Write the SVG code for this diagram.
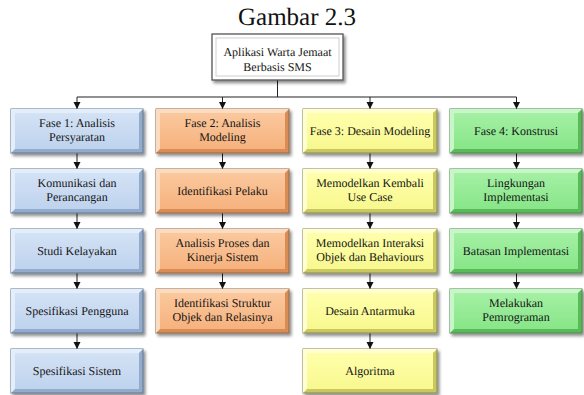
<svg xmlns="http://www.w3.org/2000/svg" width="584" height="395" viewBox="0 0 584 395">
  <style>
    text { font-size: 12px; fill: #151515; text-anchor: middle; }
    .title { font-size: 25px; fill: #111; }
    .wire { fill: none; stroke: #222; stroke-width: 1; }
    .blue .base { fill: #93abcc; stroke: #61768f; }
    .blue .lite { fill: #e4eefa; }
    .blue .face { fill: url(#gBlue); }
    .orange .base { fill: #d98c52; stroke: #92694a; }
    .orange .lite { fill: #fcdcc0; }
    .orange .face { fill: url(#gOrange); }
    .yellow .base { fill: #c8c85e; stroke: #87875a; }
    .yellow .lite { fill: #ffffd2; }
    .yellow .face { fill: url(#gYellow); }
    .green .base { fill: #58bb58; stroke: #4d874d; }
    .green .lite { fill: #c8f6c8; }
    .green .face { fill: url(#gGreen); }
    .base { stroke-width: 1; }
  </style>
  <defs>
    <linearGradient id="gBlue" x1="0" y1="0" x2="0" y2="1">
      <stop offset="0" stop-color="#d3e2f5"/><stop offset="1" stop-color="#bfd3ee"/>
    </linearGradient>
    <linearGradient id="gOrange" x1="0" y1="0" x2="0" y2="1">
      <stop offset="0" stop-color="#fbc89d"/><stop offset="1" stop-color="#f6b27e"/>
    </linearGradient>
    <linearGradient id="gYellow" x1="0" y1="0" x2="0" y2="1">
      <stop offset="0" stop-color="#ffffab"/><stop offset="1" stop-color="#f8f890"/>
    </linearGradient>
    <linearGradient id="gGreen" x1="0" y1="0" x2="0" y2="1">
      <stop offset="0" stop-color="#a4f0a4"/><stop offset="1" stop-color="#88e688"/>
    </linearGradient>
    <filter id="shadow" x="-10%" y="-10%" width="125%" height="135%">
      <feDropShadow dx="2" dy="2.5" stdDeviation="1.6" flood-color="#000" flood-opacity="0.45"/>
    </filter>
    <marker id="arrow" markerUnits="userSpaceOnUse" markerWidth="8" markerHeight="8" refX="7" refY="3.5" orient="auto">
      <path d="M0,0 L7,3.5 L0,7 z" fill="#111"/>
    </marker>
  </defs>

  <rect width="584" height="395" fill="#ffffff"/>

  <g font-family="Tinos, serif" text-rendering="geometricPrecision">
  <text class="title" x="297" y="25">Gambar 2.3</text>

  <!-- connectors -->
  <g id="connectors" class="wire">
    <path d="M277.5,80 V97 M77,97 H516.5"/>
    <path d="M77,97 V109" marker-end="url(#arrow)"/>
    <path d="M222.5,97 V109" marker-end="url(#arrow)"/>
    <path d="M370,97 V109" marker-end="url(#arrow)"/>
    <path d="M516.5,97 V109" marker-end="url(#arrow)"/>
    <!-- column 1 -->
    <path d="M77,153 V169" marker-end="url(#arrow)"/>
    <path d="M77,213 V229" marker-end="url(#arrow)"/>
    <path d="M77,273 V289" marker-end="url(#arrow)"/>
    <path d="M77,333 V349" marker-end="url(#arrow)"/>
    <!-- column 2 -->
    <path d="M222.5,153 V169" marker-end="url(#arrow)"/>
    <path d="M222.5,213 V229" marker-end="url(#arrow)"/>
    <path d="M222.5,273 V289" marker-end="url(#arrow)"/>
    <!-- column 3 -->
    <path d="M370,153 V169" marker-end="url(#arrow)"/>
    <path d="M370,213 V229" marker-end="url(#arrow)"/>
    <path d="M370,273 V289" marker-end="url(#arrow)"/>
    <path d="M370,333 V349" marker-end="url(#arrow)"/>
    <!-- column 4 -->
    <path d="M516.5,153 V169" marker-end="url(#arrow)"/>
    <path d="M516.5,213 V229" marker-end="url(#arrow)"/>
    <path d="M516.5,273 V289" marker-end="url(#arrow)"/>
  </g>

  <!-- root -->
  <g id="root">
    <rect x="212" y="34" width="131" height="46" fill="#fff" stroke="#555" stroke-width="1.3" filter="url(#shadow)"/>
    <rect x="216" y="38" width="123" height="38" fill="none" stroke="#cfcfcf" stroke-width="1"/>
    <text x="277.5" y="56">Aplikasi Warta Jemaat</text>
    <text x="277.5" y="71">Berbasis SMS</text>
  </g>

  <!-- column 1: x=11 w=132 -->
  <g id="fase1" class="blue">
    <g filter="url(#shadow)"><rect class="base" x="11" y="109" width="132" height="44"/></g>
    <polygon class="lite" points="11,109 143,109 139,113 15,113 15,149 11,153"/>
    <rect class="face" x="15" y="113" width="124" height="36"/>
    <text x="77" y="127">Fase 1: Analisis</text>
    <text x="77" y="141">Persyaratan</text>
  </g>
  <g id="komunikasi" class="blue">
    <g filter="url(#shadow)"><rect class="base" x="11" y="169" width="132" height="44"/></g>
    <polygon class="lite" points="11,169 143,169 139,173 15,173 15,209 11,213"/>
    <rect class="face" x="15" y="173" width="124" height="36"/>
    <text x="77" y="187">Komunikasi dan</text>
    <text x="77" y="201">Perancangan</text>
  </g>
  <g id="studi" class="blue">
    <g filter="url(#shadow)"><rect class="base" x="11" y="229" width="132" height="44"/></g>
    <polygon class="lite" points="11,229 143,229 139,233 15,233 15,269 11,273"/>
    <rect class="face" x="15" y="233" width="124" height="36"/>
    <text x="77" y="255">Studi Kelayakan</text>
  </g>
  <g id="pengguna" class="blue">
    <g filter="url(#shadow)"><rect class="base" x="11" y="289" width="132" height="44"/></g>
    <polygon class="lite" points="11,289 143,289 139,293 15,293 15,329 11,333"/>
    <rect class="face" x="15" y="293" width="124" height="36"/>
    <text x="77" y="315">Spesifikasi Pengguna</text>
  </g>
  <g id="sistem" class="blue">
    <g filter="url(#shadow)"><rect class="base" x="11" y="349" width="132" height="44"/></g>
    <polygon class="lite" points="11,349 143,349 139,353 15,353 15,389 11,393"/>
    <rect class="face" x="15" y="353" width="124" height="36"/>
    <text x="77" y="375">Spesifikasi Sistem</text>
  </g>

  <!-- column 2: x=156 w=133 -->
  <g id="fase2" class="orange">
    <g filter="url(#shadow)"><rect class="base" x="156" y="109" width="133" height="44"/></g>
    <polygon class="lite" points="156,109 289,109 285,113 160,113 160,149 156,153"/>
    <rect class="face" x="160" y="113" width="125" height="36"/>
    <text x="222.5" y="127">Fase 2: Analisis</text>
    <text x="222.5" y="141">Modeling</text>
  </g>
  <g id="pelaku" class="orange">
    <g filter="url(#shadow)"><rect class="base" x="156" y="169" width="133" height="44"/></g>
    <polygon class="lite" points="156,169 289,169 285,173 160,173 160,209 156,213"/>
    <rect class="face" x="160" y="173" width="125" height="36"/>
    <text x="222.5" y="195">Identifikasi Pelaku</text>
  </g>
  <g id="proses" class="orange">
    <g filter="url(#shadow)"><rect class="base" x="156" y="229" width="133" height="44"/></g>
    <polygon class="lite" points="156,229 289,229 285,233 160,233 160,269 156,273"/>
    <rect class="face" x="160" y="233" width="125" height="36"/>
    <text x="222.5" y="247">Analisis Proses dan</text>
    <text x="222.5" y="261">Kinerja Sistem</text>
  </g>
  <g id="struktur" class="orange">
    <g filter="url(#shadow)"><rect class="base" x="156" y="289" width="133" height="44"/></g>
    <polygon class="lite" points="156,289 289,289 285,293 160,293 160,329 156,333"/>
    <rect class="face" x="160" y="293" width="125" height="36"/>
    <text x="222.5" y="307">Identifikasi Struktur</text>
    <text x="222.5" y="321">Objek dan Relasinya</text>
  </g>

  <!-- column 3: x=303 w=134 -->
  <g id="fase3" class="yellow">
    <g filter="url(#shadow)"><rect class="base" x="303" y="109" width="134" height="44"/></g>
    <polygon class="lite" points="303,109 437,109 433,113 307,113 307,149 303,153"/>
    <rect class="face" x="307" y="113" width="126" height="36"/>
    <text x="370" y="135">Fase 3: Desain Modeling</text>
  </g>
  <g id="usecase" class="yellow">
    <g filter="url(#shadow)"><rect class="base" x="303" y="169" width="134" height="44"/></g>
    <polygon class="lite" points="303,169 437,169 433,173 307,173 307,209 303,213"/>
    <rect class="face" x="307" y="173" width="126" height="36"/>
    <text x="370" y="187">Memodelkan Kembali</text>
    <text x="370" y="201">Use Case</text>
  </g>
  <g id="interaksi" class="yellow">
    <g filter="url(#shadow)"><rect class="base" x="303" y="229" width="134" height="44"/></g>
    <polygon class="lite" points="303,229 437,229 433,233 307,233 307,269 303,273"/>
    <rect class="face" x="307" y="233" width="126" height="36"/>
    <text x="370" y="247">Memodelkan Interaksi</text>
    <text x="370" y="261">Objek dan Behaviours</text>
  </g>
  <g id="antarmuka" class="yellow">
    <g filter="url(#shadow)"><rect class="base" x="303" y="289" width="134" height="44"/></g>
    <polygon class="lite" points="303,289 437,289 433,293 307,293 307,329 303,333"/>
    <rect class="face" x="307" y="293" width="126" height="36"/>
    <text x="370" y="315">Desain Antarmuka</text>
  </g>
  <g id="algoritma" class="yellow">
    <g filter="url(#shadow)"><rect class="base" x="303" y="349" width="134" height="44"/></g>
    <polygon class="lite" points="303,349 437,349 433,353 307,353 307,389 303,393"/>
    <rect class="face" x="307" y="353" width="126" height="36"/>
    <text x="370" y="375">Algoritma</text>
  </g>

  <!-- column 4: x=450 w=132 -->
  <g id="fase4" class="green">
    <g filter="url(#shadow)"><rect class="base" x="450" y="109" width="132" height="44"/></g>
    <polygon class="lite" points="450,109 582,109 578,113 454,113 454,149 450,153"/>
    <rect class="face" x="454" y="113" width="124" height="36"/>
    <text x="516" y="135">Fase 4: Konstrusi</text>
  </g>
  <g id="lingkungan" class="green">
    <g filter="url(#shadow)"><rect class="base" x="450" y="169" width="132" height="44"/></g>
    <polygon class="lite" points="450,169 582,169 578,173 454,173 454,209 450,213"/>
    <rect class="face" x="454" y="173" width="124" height="36"/>
    <text x="516" y="187">Lingkungan</text>
    <text x="516" y="201">Implementasi</text>
  </g>
  <g id="batasan" class="green">
    <g filter="url(#shadow)"><rect class="base" x="450" y="229" width="132" height="44"/></g>
    <polygon class="lite" points="450,229 582,229 578,233 454,233 454,269 450,273"/>
    <rect class="face" x="454" y="233" width="124" height="36"/>
    <text x="516" y="255">Batasan Implementasi</text>
  </g>
  <g id="pemrograman" class="green">
    <g filter="url(#shadow)"><rect class="base" x="450" y="289" width="132" height="44"/></g>
    <polygon class="lite" points="450,289 582,289 578,293 454,293 454,329 450,333"/>
    <rect class="face" x="454" y="293" width="124" height="36"/>
    <text x="516" y="307">Melakukan</text>
    <text x="516" y="321">Pemrograman</text>
  </g>
  </g>
</svg>
